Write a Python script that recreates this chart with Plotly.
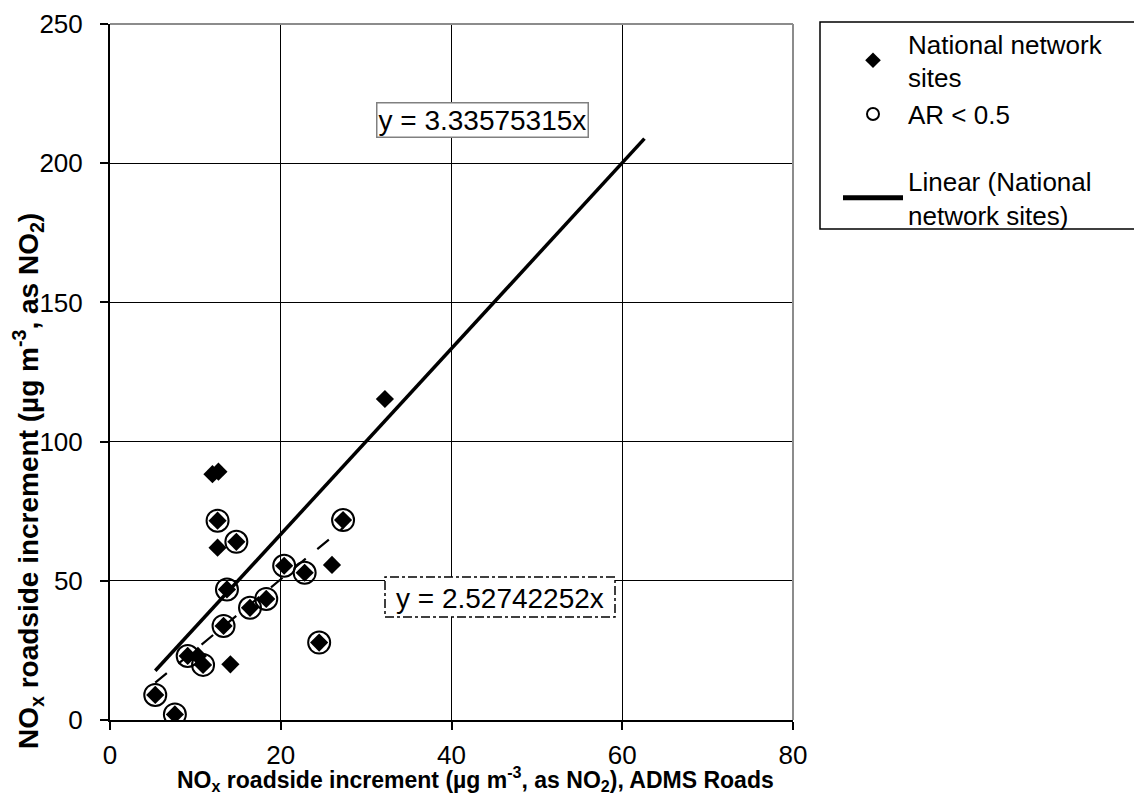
import plotly.graph_objects as go

# ---- data ----
site_x = [32.2, 12.0, 12.7, 12.6, 12.6, 14.8, 27.3, 26.0, 20.4, 22.8, 13.7,
          18.3, 16.4, 13.3, 24.5, 9.1, 10.3, 10.9, 14.1, 5.3, 7.6]
site_y = [115.3, 88.3, 89.2, 71.6, 61.9, 64.0, 71.8, 55.7, 55.4, 52.9, 46.9,
          43.5, 40.3, 33.8, 27.8, 23.0, 23.0, 19.8, 20.0, 9.0, 2.0]
ar_x = [12.6, 14.8, 27.3, 20.4, 22.8, 13.7, 18.3, 16.4, 13.3, 24.5, 9.1, 10.9, 5.3, 7.6]
ar_y = [71.6, 64.0, 71.8, 55.4, 52.9, 46.9, 43.5, 40.3, 33.8, 27.8, 23.0, 19.8, 9.0, 2.0]

slope_all = 3.33575315
slope_ar = 2.52742252
trend_all_xrange = [min(site_x), 62.6]
trend_ar_xrange = [min(ar_x), max(ar_x)]

x_ticks = [0, 20, 40, 60, 80]
y_ticks = [0, 50, 100, 150, 200, 250]

FONT = "Arial, Liberation Sans, sans-serif"

# the page body adds an 8px offset; work in screenshot pixels and compensate
OFF = 8
W, H = 1142 - OFF, 796 - OFF
L, R, T, B = 110 - OFF, 793 - OFF, 24 - OFF, 720 - OFF
PW, PH = R - L, B - T


def px(xs):
    return (xs - OFF - L) / PW


def py(ys):
    return (B - (ys - OFF)) / PH


fig = go.Figure()

fig.add_trace(go.Scatter(
    x=site_x, y=site_y, mode="markers",
    name="National network<br>sites",
    marker=dict(symbol="diamond", size=14, color="black"),
    legendgroup="a",
))
fig.add_trace(go.Scatter(
    x=ar_x, y=ar_y, mode="markers",
    name="AR < 0.5",
    marker=dict(symbol="circle-open", size=22, color="black", line=dict(width=2, color="black")),
    legendgroup="a",
))
fig.add_trace(go.Scatter(
    x=trend_all_xrange, y=[slope_all * v for v in trend_all_xrange], mode="lines",
    name="Linear (National<br>network sites)",
    line=dict(color="black", width=3.5),
    legendgroup="b",
))
fig.add_trace(go.Scatter(
    x=trend_ar_xrange, y=[slope_ar * v for v in trend_ar_xrange], mode="lines",
    showlegend=False,
    line=dict(color="black", width=2.2, dash="longdash"),
))

# equation labels
fig.add_annotation(
    x=px(482), y=py(120), xref="paper", yref="paper", xanchor="center", yanchor="middle",
    text="y = 3.33575315x", showarrow=False,
    font=dict(family=FONT, size=28, color="black"),
    bgcolor="white", bordercolor="#808080", borderwidth=1.5, borderpad=1,
)
fig.add_shape(type="rect", xref="paper", yref="paper",
              x0=px(385), x1=px(615), y0=py(617), y1=py(577),
              line=dict(color="black", width=1.5, dash="dashdot"),
              fillcolor="white", layer="above")
fig.add_annotation(
    x=px(500), y=py(598), xref="paper", yref="paper", xanchor="center", yanchor="middle",
    text="y = 2.52742252x", showarrow=False,
    font=dict(family=FONT, size=28, color="black"),
)

# gray top/right border
fig.add_shape(type="line", xref="paper", yref="paper", x0=0, x1=1, y0=1, y1=1,
              line=dict(color="#8c8c8c", width=2), layer="above")
fig.add_shape(type="line", xref="paper", yref="paper", x0=1, x1=1, y0=0, y1=1,
              line=dict(color="#8c8c8c", width=2), layer="above")

# legend frame (extends to the right edge of the page)
fig.add_shape(type="rect", xref="paper", yref="paper",
              x0=px(820), x1=px(1160), y0=py(229), y1=py(22),
              line=dict(color="black", width=1.5), fillcolor="rgba(0,0,0,0)")

# axis titles
fig.add_annotation(
    x=px(475), y=py(779), xref="paper", yref="paper", xanchor="center", yanchor="middle",
    text="<b>NO<sub>x</sub> roadside increment (µg m<sup>-3</sup>, as NO<sub>2</sub>), ADMS Roads</b>",
    showarrow=False, font=dict(family=FONT, size=23, color="black"),
)
fig.add_annotation(
    x=px(28), y=py(481), xref="paper", yref="paper", xanchor="center", yanchor="middle",
    text="<b>NO<sub>x</sub> roadside increment (µg m<sup>-3</sup>, as NO<sub>2</sub>)</b>",
    textangle=-90, showarrow=False, font=dict(family=FONT, size=28, color="black"),
)

fig.update_xaxes(
    range=[0, 80], tickvals=x_ticks, ticktext=[str(v) for v in x_ticks],
    showgrid=True, gridcolor="black", gridwidth=1,
    showline=True, linecolor="black", linewidth=2,
    ticks="outside", ticklen=8, tickcolor="black", tickwidth=1.5,
    tickfont=dict(family=FONT, size=26, color="black"), zeroline=False,
    ticklabelstandoff=3,
)
fig.update_yaxes(
    range=[0, 250], tickvals=y_ticks, ticktext=[str(v) for v in y_ticks],
    showgrid=True, gridcolor="black", gridwidth=1,
    showline=True, linecolor="black", linewidth=2,
    ticks="outside", ticklen=8, tickcolor="black", tickwidth=1.5,
    tickfont=dict(family=FONT, size=26, color="black"), zeroline=False,
    ticklabelstandoff=12,
)

fig.update_layout(
    width=W, height=H,
    margin=dict(l=L, r=W - R, t=T, b=H - B, autoexpand=False),
    plot_bgcolor="white", paper_bgcolor="white",
    font=dict(family=FONT, color="black"),
    showlegend=True,
    legend=dict(
        x=px(838), y=py(20), xanchor="left", yanchor="top",
        borderwidth=0, bgcolor="rgba(0,0,0,0)",
        font=dict(family=FONT, size=26, color="black"),
        itemsizing="constant", itemwidth=60, tracegroupgap=30, traceorder="grouped",
    ),
)

fig.write_html("out.html")
